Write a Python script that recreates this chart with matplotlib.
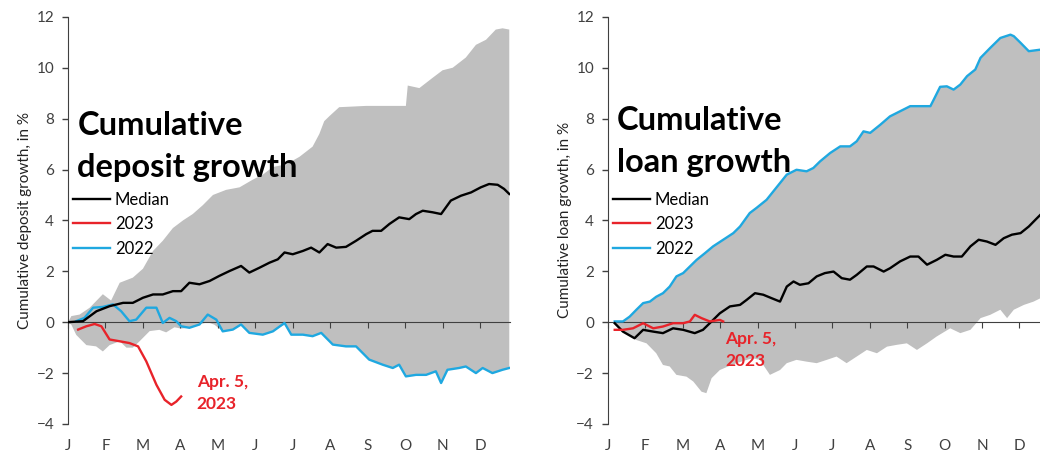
import numpy as np
import matplotlib
matplotlib.use("Agg")
import matplotlib.pyplot as plt

plt.rcParams['font.family'] = ['Lato', 'DejaVu Sans']

months = ["J", "F", "M", "A", "M", "J", "J", "A", "S", "O", "N", "D"]

# ---- deposits (x in months since Jan 1) ----
dep_hi_x = [0.0, 0.09, 0.31, 0.58, 0.93, 1.15, 1.38, 1.73, 2.0, 2.27, 2.53, 2.8, 3.07, 3.33, 3.6,
            3.87, 4.22, 4.58, 4.93, 5.2, 5.47, 5.82, 6.18, 6.53, 6.71, 6.84, 6.98, 7.24,
            7.96, 9.02, 9.07, 9.38, 9.73, 10.0, 10.27, 10.62, 10.89, 11.16, 11.42, 11.6, 11.78]
dep_hi_y = [0.0, 0.24, 0.3, 0.57, 1.1, 0.85, 1.55, 1.75, 2.1, 2.8, 3.2, 3.7, 4.0, 4.25, 4.6,
            5.0, 5.2, 5.3, 5.6, 5.8, 6.1, 6.2, 6.5, 6.9, 7.4, 7.9, 8.1, 8.45,
            8.5, 8.5, 9.3, 9.2, 9.6, 9.9, 10.0, 10.4, 10.9, 11.1, 11.5, 11.55, 11.5]
dep_lo_x = [0.0, 0.09, 0.22, 0.49, 0.75, 0.93, 1.11, 1.38, 1.56, 1.73, 1.91, 2.18, 2.44, 2.62,
            2.84, 3.02, 3.24, 3.51, 3.73, 3.91, 4.13, 4.4, 4.62, 4.84, 5.2, 5.47, 5.78, 5.96,
            6.27, 6.53, 6.76, 7.07, 7.42, 7.69, 8.04, 8.4, 8.67, 8.84, 9.02, 9.29, 9.56, 9.82,
            9.96, 10.13, 10.44, 10.62, 10.89, 11.07, 11.33, 11.6, 11.78]
dep_lo_y = [0.0, -0.1, -0.5, -0.9, -0.95, -1.15, -0.9, -0.75, -1.0, -1.0, -0.75, -0.35, -0.3,
            -0.4, -0.2, -0.25, -0.22, -0.09, 0.0, -0.1, -0.36, -0.29, -0.12, -0.42, -0.49,
            -0.36, -0.1, -0.49, -0.5, -0.55, -0.42, -0.88, -0.95, -0.95, -1.47, -1.67, -1.8,
            -1.67, -2.13, -2.07, -2.07, -1.93, -2.39, -1.87, -1.8, -1.74, -2.0, -1.8, -2.0,
            -1.87, -1.8]
dep_med_x = [0.0, 0.4, 0.76, 1.11, 1.47, 1.73, 2.0, 2.27, 2.53, 2.8, 3.02, 3.24, 3.51, 3.78,
             4.04, 4.31, 4.62, 4.84, 5.11, 5.38, 5.6, 5.78, 6.0, 6.27, 6.49, 6.71, 6.93, 7.16,
             7.42, 7.69, 7.96, 8.13, 8.36, 8.58, 8.84, 9.11, 9.29, 9.47, 9.73, 9.96, 10.22,
             10.49, 10.76, 11.02, 11.24, 11.47, 11.64, 11.78]
dep_med_y = [0.0, 0.04, 0.43, 0.63, 0.76, 0.76, 0.96, 1.09, 1.09, 1.22, 1.22, 1.55, 1.49, 1.62,
             1.82, 2.01, 2.21, 1.95, 2.14, 2.34, 2.47, 2.74, 2.67, 2.8, 2.93, 2.74, 3.07, 2.93,
             2.96, 3.2, 3.46, 3.59, 3.59, 3.86, 4.12, 4.05, 4.25, 4.38, 4.32, 4.25, 4.78, 4.97,
             5.1, 5.3, 5.43, 5.4, 5.24, 5.04]
dep_23_x = [0.27, 0.49, 0.71, 0.89, 1.11, 1.38, 1.64, 1.87, 2.09, 2.36, 2.58, 2.76, 2.89, 3.02]
dep_23_y = [-0.29, -0.16, -0.07, -0.16, -0.68, -0.75, -0.82, -0.95, -1.54, -2.46, -3.05,
            -3.25, -3.12, -2.92]
dep_22_x = [0.22, 0.44, 0.67, 0.93, 1.2, 1.42, 1.64, 1.82, 2.09, 2.36, 2.53, 2.71, 2.89, 3.02,
            3.24, 3.51, 3.73, 3.96, 4.13, 4.4, 4.62, 4.84, 5.2, 5.47, 5.78, 5.96, 6.27, 6.53,
            6.76, 7.07, 7.42, 7.69, 8.04, 8.4, 8.67, 8.84, 9.02, 9.29, 9.56, 9.82, 9.96, 10.13,
            10.44, 10.62, 10.89, 11.07, 11.33, 11.6, 11.78]
dep_22_y = [0.04, 0.17, 0.57, 0.6, 0.7, 0.43, 0.04, 0.1, 0.57, 0.57, -0.03, 0.17, 0.04, -0.16,
            -0.22, -0.09, 0.3, 0.1, -0.36, -0.29, -0.09, -0.42, -0.49, -0.36, -0.03, -0.49,
            -0.49, -0.55, -0.42, -0.88, -0.95, -0.95, -1.47, -1.67, -1.8, -1.67, -2.13, -2.07,
            -2.07, -1.93, -2.39, -1.87, -1.8, -1.74, -2.0, -1.8, -2.0, -1.87, -1.8]

# ---- loans ----
loan_22_x = [0.18, 0.4, 0.58, 0.76, 0.94, 1.12, 1.29, 1.47, 1.65, 1.83, 2.01, 2.19, 2.37, 2.59,
             2.81, 3.08, 3.35, 3.53, 3.79, 3.97, 4.24, 4.42, 4.6, 4.78, 5.04, 5.31, 5.49, 5.67,
             5.94, 6.21, 6.47, 6.65, 6.83, 7.01, 7.28, 7.54, 7.81, 8.08, 8.35, 8.62, 8.71,
             8.88, 9.06, 9.24, 9.42, 9.6, 9.82, 9.96, 10.22, 10.49, 10.76, 10.85, 11.03,
             11.25, 11.56]
loan_22_y = [0.03, 0.03, 0.22, 0.49, 0.75, 0.81, 1.0, 1.14, 1.4, 1.8, 1.93, 2.19, 2.45, 2.71,
             2.98, 3.24, 3.5, 3.76, 4.29, 4.49, 4.81, 5.14, 5.47, 5.8, 5.99, 5.93, 6.06, 6.32,
             6.65, 6.91, 6.91, 7.11, 7.5, 7.44, 7.76, 8.09, 8.29, 8.49, 8.49, 8.49, 8.75,
             9.25, 9.27, 9.14, 9.34, 9.67, 9.93, 10.39, 10.78, 11.17, 11.3, 11.24, 10.98,
             10.65, 10.71]
loan_lo_x = [0.18, 0.49, 0.76, 1.03, 1.29, 1.47, 1.65, 1.83, 2.1, 2.28, 2.5, 2.63, 2.77, 2.99,
             3.21, 3.44, 3.71, 3.88, 4.06, 4.33, 4.6, 4.78, 5.04, 5.31, 5.58, 5.85, 6.11, 6.38,
             6.65, 6.92, 7.19, 7.46, 7.72, 7.99, 8.26, 8.53, 8.79, 9.15, 9.42, 9.69, 9.96,
             10.22, 10.49, 10.67, 10.85, 11.12, 11.38, 11.56]
loan_lo_y = [-0.1, -0.43, -0.7, -0.83, -1.22, -1.68, -1.74, -2.07, -2.14, -2.33, -2.73, -2.79,
             -2.2, -1.88, -1.74, -1.61, -1.48, -1.42, -1.48, -2.07, -1.88, -1.61, -1.48, -1.55,
             -1.61, -1.48, -1.35, -1.61, -1.35, -1.09, -1.22, -0.96, -0.89, -0.83, -1.09,
             -0.83, -0.56, -0.24, -0.43, -0.3, 0.16, 0.29, 0.49, 0.16, 0.49, 0.68, 0.81, 0.94]
loan_med_x = [0.18, 0.4, 0.71, 0.94, 1.21, 1.47, 1.74, 2.01, 2.32, 2.54, 2.77, 2.99, 3.26,
              3.53, 3.71, 3.93, 4.15, 4.38, 4.6, 4.78, 4.96, 5.13, 5.36, 5.58, 5.8, 6.03, 6.25,
              6.47, 6.65, 6.92, 7.1, 7.37, 7.54, 7.81, 8.08, 8.3, 8.53, 8.79, 9.02, 9.24, 9.46,
              9.69, 9.91, 10.13, 10.36, 10.58, 10.8, 11.03, 11.25, 11.43, 11.56]
loan_med_y = [-0.04, -0.37, -0.63, -0.3, -0.37, -0.43, -0.24, -0.3, -0.43, -0.3, 0.03, 0.35,
              0.62, 0.68, 0.88, 1.14, 1.08, 0.94, 0.81, 1.4, 1.6, 1.47, 1.53, 1.8, 1.93, 1.99,
              1.73, 1.67, 1.86, 2.19, 2.19, 1.99, 2.12, 2.39, 2.58, 2.58, 2.26, 2.45, 2.65,
              2.58, 2.58, 2.98, 3.24, 3.17, 3.04, 3.3, 3.44, 3.5, 3.76, 4.03, 4.22]
loan_23_x = [0.18, 0.4, 0.67, 0.94, 1.21, 1.47, 1.74, 2.01, 2.19, 2.32, 2.5, 2.72, 2.99, 3.08]
loan_23_y = [-0.3, -0.3, -0.24, -0.04, -0.24, -0.17, -0.04, -0.04, 0.03, 0.29, 0.16, 0.03,
             0.09, 0.03]

BAND = "#bfbfbf"
RED = "#e8232a"
BLUE = "#1fa8e0"
TXT = "#404040"


def draw(ax, hi_x, hi_y, lo_x, lo_y, med_x, med_y, y23_x, y23_y, y22_x, y22_y,
         xmax, title, ylabel, title_y, note_xy):
    ax.fill(np.concatenate([hi_x, lo_x[::-1]]), np.concatenate([hi_y, lo_y[::-1]]),
            color=BAND, lw=0, zorder=1)
    ax.plot(med_x, med_y, color="black", lw=1.7, label="Median", zorder=4)
    ax.plot(y23_x, y23_y, color=RED, lw=1.7, label="2023", zorder=5)
    ax.plot(y22_x, y22_y, color=BLUE, lw=1.7, label="2022", zorder=3)

    ax.set_xlim(0, xmax)
    ax.set_ylim(-4, 12)
    ax.set_yticks(range(-4, 13, 2))
    ax.tick_params(axis="y", direction="out", length=4, width=1, colors=TXT,
                   labelsize=11, pad=6)
    for s in ["top", "right"]:
        ax.spines[s].set_visible(False)
    ax.spines["left"].set_color(TXT)
    ax.spines["bottom"].set_position(("data", 0))
    ax.spines["bottom"].set_color(TXT)
    ax.set_xticks(range(12))
    ax.tick_params(axis="x", direction="out", length=4, colors=TXT, labelbottom=False)
    sec = ax.secondary_xaxis("bottom")
    sec.set_xticks(range(12))
    sec.set_xticklabels(months)
    sec.spines["bottom"].set_visible(False)
    sec.tick_params(length=0, pad=11, labelsize=11, colors=TXT)
    ax.set_ylabel(ylabel, fontsize=11, color="#222222", labelpad=3)

    ax.text(0.021, title_y, title, transform=ax.transAxes, fontsize=23.5, fontweight="bold",
            va="center", ha="left", linespacing=1.55, zorder=6)
    ax.legend(loc="upper left", bbox_to_anchor=(0.012, 0.57), frameon=False, fontsize=12,
              handlelength=2.2, handletextpad=0.3, labelspacing=0.5, borderpad=0,
              borderaxespad=0)
    ax.text(note_xy[0], note_xy[1], "Apr. 5,\n2023", color=RED, fontsize=12.5,
            fontweight="bold", ha="left", va="center", linespacing=1.45, zorder=6)


fig = plt.figure(figsize=(10.4, 4.59), dpi=100)
ax1 = fig.add_axes([0.0654, 0.0763, 0.425, 0.887])
ax2 = fig.add_axes([0.5846, 0.0763, 0.4154, 0.887])

draw(ax1, dep_hi_x, dep_hi_y, dep_lo_x, dep_lo_y, dep_med_x, dep_med_y, dep_23_x, dep_23_y,
     dep_22_x, dep_22_y, 11.8, "Cumulative\ndeposit growth", "Cumulative deposit growth, in %",
     0.682, (3.44, -2.78))
draw(ax2, loan_22_x, loan_22_y, loan_lo_x, loan_lo_y, loan_med_x, loan_med_y, loan_23_x,
     loan_23_y, loan_22_x, loan_22_y, 11.55, "Cumulative\nloan growth",
     "Cumulative loan growth, in %", 0.694, (3.13, -1.08))

fig.savefig("out.png", dpi=100)
